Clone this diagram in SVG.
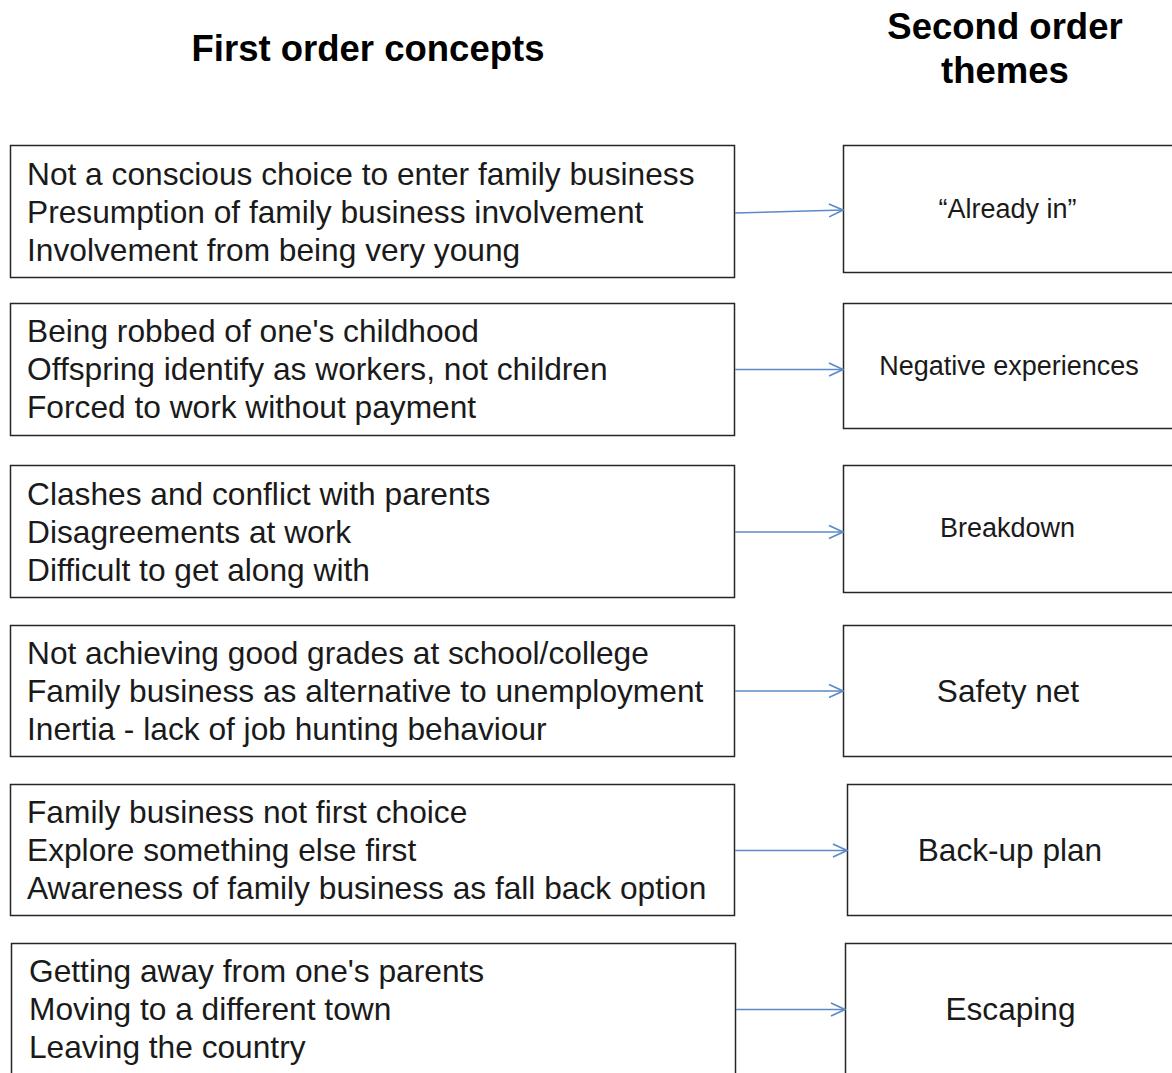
<svg xmlns="http://www.w3.org/2000/svg" width="1172" height="1073" viewBox="0 0 1172 1073">
  <style>
    .box { fill: #ffffff; stroke: #262626; stroke-width: 1.5; }
    .head { font-family: "Liberation Sans", Arial, sans-serif; font-weight: bold; font-size: 36.5px; fill: #000; text-anchor: middle; }
    .item { font-family: "Liberation Sans", Arial, sans-serif; font-size: 31.7px; fill: #1a1a1a; }
    .theme { font-family: "Liberation Sans", Arial, sans-serif; font-size: 31.6px; fill: #1a1a1a; text-anchor: middle; }
    .theme-sm { font-size: 27px; }
    .link { fill: none; stroke: #5b8ac6; stroke-width: 1.6; marker-end: url(#arrow); }
  </style>
  <defs>
    <marker id="arrow" viewBox="0 0 16 16" refX="15" refY="8" markerWidth="16" markerHeight="16" markerUnits="userSpaceOnUse" orient="auto">
      <path d="M1,1.5 L15,8 L1,14.5" fill="none" stroke="#5b8ac6" stroke-width="1.6"/>
    </marker>
  </defs>

  <rect width="1172" height="1073" fill="#ffffff"/>

  <g id="headers">
    <text class="head" x="368" y="61">First order concepts</text>
    <text class="head" x="1005" y="39">Second order</text>
    <text class="head" x="1005" y="83">themes</text>
  </g>

  <!-- first order concept boxes -->
  <g id="concepts-1">
    <rect class="box" x="10.5" y="145.5" width="724" height="132"/>
    <text class="item" x="27" y="185">Not a conscious choice to enter family business</text>
    <text class="item" x="27" y="223">Presumption of family business involvement</text>
    <text class="item" x="27" y="261">Involvement from being very young</text>
  </g>
  <g id="concepts-2">
    <rect class="box" x="10.5" y="303.5" width="724" height="132"/>
    <text class="item" x="27" y="342">Being robbed of one's childhood</text>
    <text class="item" x="27" y="380">Offspring identify as workers, not children</text>
    <text class="item" x="27" y="418">Forced to work without payment</text>
  </g>
  <g id="concepts-3">
    <rect class="box" x="10.5" y="465.5" width="724" height="132"/>
    <text class="item" x="27" y="505">Clashes and conflict with parents</text>
    <text class="item" x="27" y="543">Disagreements at work</text>
    <text class="item" x="27" y="581">Difficult to get along with</text>
  </g>
  <g id="concepts-4">
    <rect class="box" x="10.5" y="625.5" width="724" height="131"/>
    <text class="item" x="27" y="664">Not achieving good grades at school/college</text>
    <text class="item" x="27" y="702">Family business as alternative to unemployment</text>
    <text class="item" x="27" y="740">Inertia - lack of job hunting behaviour</text>
  </g>
  <g id="concepts-5">
    <rect class="box" x="10.5" y="784.5" width="724" height="131"/>
    <text class="item" x="27" y="823">Family business not first choice</text>
    <text class="item" x="27" y="861">Explore something else first</text>
    <text class="item" x="27" y="899">Awareness of family business as fall back option</text>
  </g>
  <g id="concepts-6">
    <rect class="box" x="11.5" y="943.5" width="724" height="140"/>
    <text class="item" x="29" y="982">Getting away from one's parents</text>
    <text class="item" x="29" y="1020">Moving to a different town</text>
    <text class="item" x="29" y="1058">Leaving the country</text>
  </g>

  <!-- second order theme boxes -->
  <g id="theme-1">
    <rect class="box" x="843.5" y="145.5" width="340" height="127"/>
    <text class="theme theme-sm" x="1007.5" y="218">“Already in”</text>
  </g>
  <g id="theme-2">
    <rect class="box" x="843.5" y="303.5" width="340" height="125"/>
    <text class="theme theme-sm" x="1009" y="375">Negative experiences</text>
  </g>
  <g id="theme-3">
    <rect class="box" x="843.5" y="465.5" width="340" height="127"/>
    <text class="theme theme-sm" x="1007.5" y="537">Breakdown</text>
  </g>
  <g id="theme-4">
    <rect class="box" x="843.5" y="625.5" width="340" height="131"/>
    <text class="theme" x="1008" y="702">Safety net</text>
  </g>
  <g id="theme-5">
    <rect class="box" x="847.5" y="784.5" width="340" height="131"/>
    <text class="theme" x="1010" y="861">Back-up plan</text>
  </g>
  <g id="theme-6">
    <rect class="box" x="845.5" y="943.5" width="340" height="140"/>
    <text class="theme" x="1010.5" y="1020">Escaping</text>
  </g>

  <!-- connectors -->
  <g id="connectors">
    <path class="link" d="M735,213 L843,210"/>
    <path class="link" d="M735,369.5 L843,369.5"/>
    <path class="link" d="M735,532 L843,532"/>
    <path class="link" d="M735,691 L843,691"/>
    <path class="link" d="M735,850.5 L847,850.5"/>
    <path class="link" d="M736,1009.5 L845,1009.5"/>
  </g>
</svg>
